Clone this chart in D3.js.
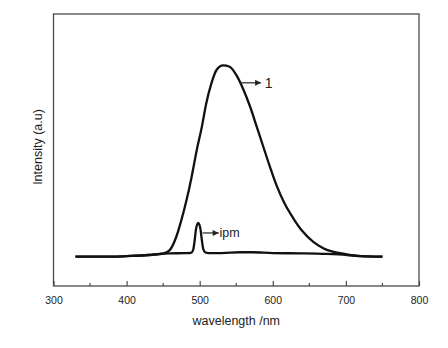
<!DOCTYPE html>
<html>
  <head>
    <meta charset="UTF-8">
    <title>Emission spectra</title>
    <style type="text/css">
      body { margin: 0; background: #fff; }
      text { font-family: 'Liberation Sans', Arial, sans-serif; fill: #222; }
    </style>
  </head>
  <body>
    <script src="https://cdn.jsdelivr.net/npm/d3@7/dist/d3.min.js"></script>
    <script>

      // Data (intensity in arbitrary units)
      var wl1 = [330, 380, 400, 430, 450, 459, 468, 475, 482, 489, 496, 503, 509, 516, 523, 532, 541, 550, 559, 569, 578, 587, 596, 605, 616, 628, 641, 655, 669, 682, 696, 715, 750];
      var int1 = [108, 108, 110, 114, 119, 132, 181, 243, 316, 402, 500, 586, 672, 745, 794, 811, 806, 776, 727, 659, 586, 512, 439, 371, 304, 249, 200, 163, 139, 126, 119, 111, 108];

      var wlIpm = [330, 380, 400, 430, 450, 460, 480, 488, 491, 493, 495, 498, 501, 503, 505, 508, 512, 530, 555, 573, 600, 640, 673, 690, 720, 750];
      var intIpm = [108, 108, 110, 114, 119, 120, 121, 122, 132, 165, 210, 232, 210, 168, 135, 123, 121, 121, 124, 124, 121, 120, 118, 116, 110, 108];

      var majorTicks = [300, 400, 500, 600, 700, 800];
      var minorTicks = [350, 450, 550, 650, 750];

      var svgWidth = 448,
          svgHeight = 348,
          margin = {top: 14, right: 29, bottom: 62, left: 53.5},
          width = svgWidth - margin.left - margin.right,
          height = svgHeight - margin.top - margin.bottom;

      var svg = d3.select("body")
                  .append("svg")
                  .attr("width", svgWidth)
                  .attr("height", svgHeight);

      var canvas = svg.append("g")
                      .attr("transform", "translate(" + margin.left + "," + margin.top + ")");

      var xScale = d3.scaleLinear().domain([300, 800]).range([0, width]);
      var yScale = d3.scaleLinear().domain([0, 1000]).range([height, 0]);

      // frame
      canvas.append("rect")
            .attr("width", width)
            .attr("height", height)
            .attr("fill", "none")
            .attr("stroke", "#4a4a4a")
            .attr("stroke-width", 1.3);

      // x axis, ticks pointing inward
      var xAxis = d3.axisBottom(xScale)
                    .tickValues(majorTicks)
                    .tickSizeInner(-5)
                    .tickSizeOuter(0)
                    .tickPadding(11)
                    .tickFormat(d3.format("d"));

      var gx = canvas.append("g")
                     .attr("transform", "translate(0," + height + ")")
                     .call(xAxis);
      gx.select(".domain").remove();
      gx.selectAll("line").attr("stroke", "#4a4a4a").attr("stroke-width", 1.2);
      gx.selectAll("text")
        .attr("font-size", "10.5px")
        .attr("font-family", "'Liberation Sans', Arial, sans-serif")
        .attr("fill", "#222");

      canvas.append("g")
            .selectAll("line")
            .data(minorTicks)
            .enter()
            .append("line")
            .attr("x1", d => xScale(d))
            .attr("x2", d => xScale(d))
            .attr("y1", height)
            .attr("y2", height - 3)
            .attr("stroke", "#4a4a4a")
            .attr("stroke-width", 1.2);

      // axis titles
      svg.append("text")
         .attr("x", margin.left + xScale(550))
         .attr("y", 325)
         .attr("text-anchor", "middle")
         .attr("font-size", "12.5px")
         .text("wavelength /nm");

      svg.append("text")
         .attr("transform", "translate(42,147) rotate(-90)")
         .attr("text-anchor", "middle")
         .attr("font-size", "12.5px")
         .text("Intensity (a.u)");

      // spectra
      var series = [
        {name: "1", wl: wl1, val: int1},
        {name: "ipm", wl: wlIpm, val: intIpm}
      ];

      var line = d3.line()
                   .x(d => xScale(d[0]))
                   .y(d => yScale(d[1]))
                   .curve(d3.curveMonotoneX);

      canvas.selectAll("path.spec")
            .data(series)
            .enter()
            .append("path")
            .attr("class", "spec")
            .attr("fill", "none")
            .attr("stroke", "#111")
            .attr("stroke-width", 2.3)
            .attr("stroke-linejoin", "round")
            .attr("d", s => line(d3.zip(s.wl, s.val)));

      // annotations
      svg.append("defs")
         .append("marker")
         .attr("id", "arrow")
         .attr("viewBox", "0 0 10 10")
         .attr("refX", 10)
         .attr("refY", 5)
         .attr("markerWidth", 6)
         .attr("markerHeight", 5)
         .attr("orient", "auto")
         .append("path")
         .attr("d", "M0,0L10,5L0,10z")
         .attr("fill", "#222");

      var notes = [
        {label: "1", x0: 555, x1: 584, v: 747, tx: 589, size: "14px"},
        {label: "ipm", x0: 504, x1: 526, v: 195, tx: 527, size: "12.5px"}
      ];

      notes.forEach(function(n) {
        canvas.append("line")
              .attr("x1", xScale(n.x0))
              .attr("x2", xScale(n.x1))
              .attr("y1", yScale(n.v))
              .attr("y2", yScale(n.v))
              .attr("stroke", "#222")
              .attr("stroke-width", 1.2)
              .attr("marker-end", "url(#arrow)");
        canvas.append("text")
              .attr("x", xScale(n.tx))
              .attr("y", yScale(n.v))
              .attr("dy", "0.36em")
              .attr("font-size", n.size)
              .text(n.label);
      });

    </script>
  </body>
</html>
